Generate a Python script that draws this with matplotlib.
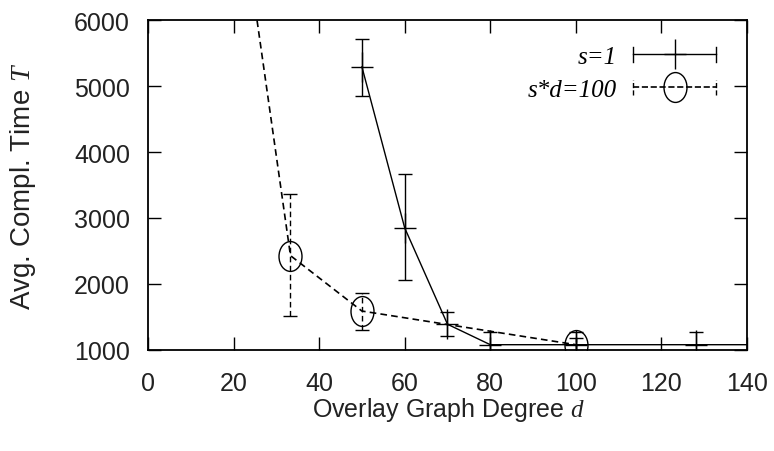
import numpy as np
import matplotlib
matplotlib.use('Agg')
import matplotlib.pyplot as plt
from matplotlib.path import Path
from matplotlib.lines import Line2D
from matplotlib.legend_handler import HandlerBase

# Data
d_s1 = [50, 60, 70, 80, 100, 128, 150]
t_s1 = [5290, 2850, 1390, 1080, 1080, 1080, 1080]
err_s1_low = [440, 790, 175, 200, 200, 200, 0]
err_s1_high = [420, 820, 190, 200, 200, 200, 0]

d_sd = [20, 33.3, 50, 100]
t_sd = [8500, 2430, 1590, 1080]
err_sd_low = [0, 915, 290, 100]
err_sd_high = [0, 935, 275, 100]

x_ticks = [0, 20, 40, 60, 80, 100, 120, 140]
y_ticks = [1000, 2000, 3000, 4000, 5000, 6000]

plt.rcParams['font.family'] = 'Liberation Sans'
plt.rcParams['mathtext.fontset'] = 'custom'
plt.rcParams['mathtext.it'] = 'Liberation Serif:italic'

# gnuplot-like markers (slightly taller than wide)
plus_marker = Path([(-0.385, 0), (0.385, 0), (0, -0.5), (0, 0.5)],
                   [Path.MOVETO, Path.LINETO, Path.MOVETO, Path.LINETO])
circ = Path.unit_circle()
ellipse_marker = Path(circ.vertices * np.array([0.77, 1.0]), circ.codes)

fig = plt.figure(figsize=(7.74, 4.52), dpi=100)
ax = fig.add_axes([0.1912, 0.2235, 0.7739, 0.7300])

cap = 4.7
ms = 21.5
dash = (0, (4, 2.5))

e1 = ax.errorbar(d_s1, t_s1, yerr=[err_s1_low, err_s1_high], color='black',
                 linewidth=1.0, elinewidth=1.0, capsize=cap, capthick=1.0,
                 marker=plus_marker, markersize=ms, markerfacecolor='none',
                 markeredgewidth=1.0)

e2 = ax.errorbar(d_sd, t_sd, yerr=[err_sd_low, err_sd_high], color='black',
                 linewidth=1.2, linestyle=dash, elinewidth=1.0, capsize=cap,
                 capthick=1.0, marker=ellipse_marker, markersize=ms,
                 markerfacecolor='none', markeredgewidth=1.0)
e2[2][0].set_linestyle(dash)

ax.set_xlim(0, 140)
ax.set_ylim(1000, 6000)
ax.set_xticks(x_ticks)
ax.set_yticks(y_ticks)
ax.tick_params(direction='in', length=9.5, width=1.0, top=True, right=True,
               labelsize=18, labelcolor='#222222')
ax.tick_params(axis='x', pad=15)
ax.tick_params(axis='y', pad=13)
for s in ax.spines.values():
    s.set_linewidth(1.3)

ax.set_xlabel('Overlay Graph Degree $d$', fontsize=18, color='#222222')
ax.set_ylabel('Avg. Compl. Time $T$', fontsize=20, color='#222222')
ax.xaxis.set_label_coords(0.5025, -0.135)
ax.yaxis.set_label_coords(-0.183, 0.5)


class HandlerErrLine(HandlerBase):
    def create_artists(self, legend, orig_handle, xdescent, ydescent,
                       width, height, fontsize, trans):
        y = height / 2 - ydescent
        ls = orig_handle.get_linestyle()
        c = 5.4
        arts = [
            Line2D([-xdescent, width - xdescent], [y, y], color='black',
                   linewidth=orig_handle.get_linewidth(), linestyle=ls),
            Line2D([-xdescent, -xdescent], [y - c, y + c], color='black', linewidth=1.0, linestyle=ls),
            Line2D([width - xdescent] * 2, [y - c, y + c], color='black', linewidth=1.0, linestyle=ls),
            Line2D([width / 2 - xdescent], [y], marker=orig_handle.get_marker(),
                   markersize=ms, markerfacecolor='none', markeredgecolor='black',
                   markeredgewidth=1.0, linestyle='none'),
        ]
        for a in arts:
            a.set_transform(trans)
        return arts


h1 = e1[0]
h2 = e2[0]
leg = ax.legend([h1, h2], ['s=1', 's*d=100'], loc='upper right',
                bbox_to_anchor=(0.948, 0.923), frameon=False, markerfirst=False,
                handlelength=3.3, handletextpad=0.65, labelspacing=0.42,
                borderpad=0, borderaxespad=0,
                handler_map={h1: HandlerErrLine(), h2: HandlerErrLine()},
                prop={'family': 'Liberation Serif', 'style': 'italic', 'size': 18})

fig.savefig('out.png', dpi=100)
plt.close(fig)
